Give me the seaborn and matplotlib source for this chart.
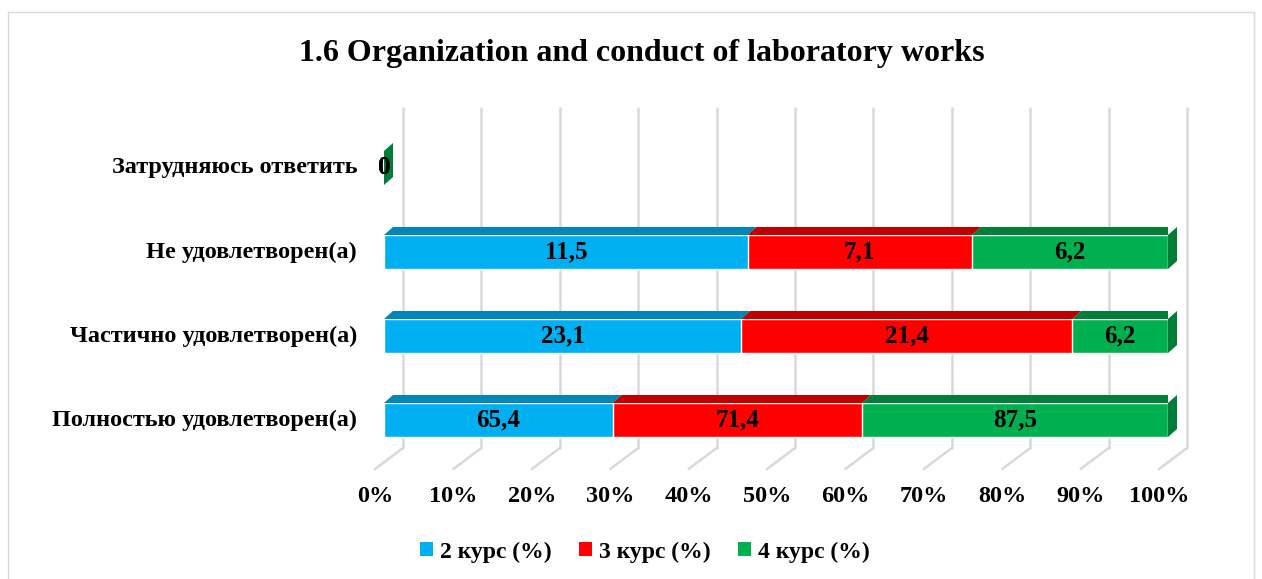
import numpy as np
import pandas as pd
import matplotlib.pyplot as plt
import seaborn as sns
from matplotlib.patches import Polygon, Patch, Rectangle

# data (top row of the chart is last)
categories = ["Полностью удовлетворен(а)", "Частично удовлетворен(а)",
              "Не удовлетворен(а)", "Затрудняюсь ответить"]
series = ["2 курс (%)", "3 курс (%)", "4 курс (%)"]
kurs2 = [65.4, 23.1, 11.5, 0]
kurs3 = [71.4, 21.4, 7.1, 0]
kurs4 = [87.5, 6.2, 6.2, 0]
ticks = [0, 10, 20, 30, 40, 50, 60, 70, 80, 90, 100]
tick_labels = [f"{t}%" for t in ticks]

colors = ["#00B0F0", "#FF0000", "#00B050"]
dark = ["#0086B8", "#C00000", "#007D38"]

sns.set_style("white")
plt.rcParams["font.family"] = ["Liberation Serif", "DejaVu Serif"]
plt.rcParams["font.weight"] = "bold"
plt.rcParams["text.color"] = "black"

df = pd.DataFrame({"cat": categories, series[0]: kurs2, series[1]: kurs3, series[2]: kurs4})
vals = df[series].values
total = vals.sum(axis=1, keepdims=True)
share = np.divide(vals * 100, total, out=np.zeros_like(vals), where=total > 0)
cum = np.cumsum(share, axis=1)
left = cum - share

fig = plt.figure(figsize=(12.62, 5.79), dpi=100)
W, H = 1262, 579
ax = fig.add_axes([384 / W, (H - 469) / H, 784 / W, 361 / H])

order = categories[::-1]  # top row first
bh = 0.405
# stacked bars drawn as layered cumulative bars
for i in [2, 1, 0]:
    sns.barplot(x=cum[:, i], y=df["cat"], order=order, color=colors[i],
                width=bh, orient="h", ax=ax, zorder=3, saturation=1)

ax.set_xlim(0, 100)
ax.set_ylim(3 + 49 / 84, -60 / 84)
ax.set_xticks([])
ax.set_yticks([])
ax.set_xlabel("")
ax.set_ylabel("")
for s in ax.spines.values():
    s.set_visible(False)

pxx = 784 / 100  # pixels per percent
pxy = 84         # pixels per row
dx, dy = 9 / pxx, -8 / pxy
gx, fx = 19 / pxx, 9 / pxx
wall = 21 / 361

# back wall gridlines and floor
xt = ax.get_xaxis_transform()
for t in ticks:
    ax.plot([t + gx, t + gx], [wall, 1], color="#D9D9D9", lw=1.8, transform=xt,
            clip_on=False, zorder=1)
    ax.plot([t + gx, t - fx], [wall, 0], color="#D9D9D9", lw=1.8, transform=xt,
            clip_on=False, zorder=1)

# 3d faces and value labels
for r, cat in enumerate(categories):
    y = order.index(cat)
    ytop, ybot = y - bh / 2, y + bh / 2
    for i in range(3):
        x0, x1 = left[r, i], cum[r, i]
        ax.add_patch(Polygon([(x0, ytop), (x0 + dx, ytop + dy), (x1 + dx, ytop + dy), (x1, ytop)],
                             closed=True, fc=dark[i], ec="none", zorder=4))
        ax.text((x0 + x1) / 2, y, f"{vals[r, i]:g}".replace(".", ","), ha="center",
                va="center", fontsize=18, fontweight="bold", zorder=6)
    x1 = cum[r, 2]
    ax.add_patch(Polygon([(x1, ytop), (x1 + dx, ytop + dy), (x1 + dx, ybot + dy), (x1, ybot)],
                         closed=True, fc=dark[2], ec="none", zorder=4, clip_on=False))
    ax.text(-27 / pxx, y, cat, ha="right", va="center", fontsize=17.5, fontweight="bold")

for t, lab in zip(ticks, tick_labels):
    ax.text(t - fx, -27 / 361, lab, transform=xt, ha="center", va="center",
            fontsize=17.5, fontweight="bold")

fig.text(642 / W, 1 - 54 / H, "1.6 Organization and conduct of laboratory works",
         ha="center", va="center", fontsize=23, fontweight="bold")

handles = [Patch(fc=c, ec="none") for c in colors]
fig.legend(handles, series, loc="center", bbox_to_anchor=(645 / W, 1 - 552 / H), ncol=3,
           frameon=False, handlelength=0.55, handleheight=0.55, handletextpad=0.3,
           columnspacing=1.15, prop={"size": 17, "weight": "bold"})

fig.patches.append(Rectangle((8 / W, -0.01), 1 - 16 / W, 1 - 12 / H + 0.01,
                             transform=fig.transFigure, fill=False, ec="#D9D9D9", lw=1))

fig.savefig("out.png", dpi=100)
